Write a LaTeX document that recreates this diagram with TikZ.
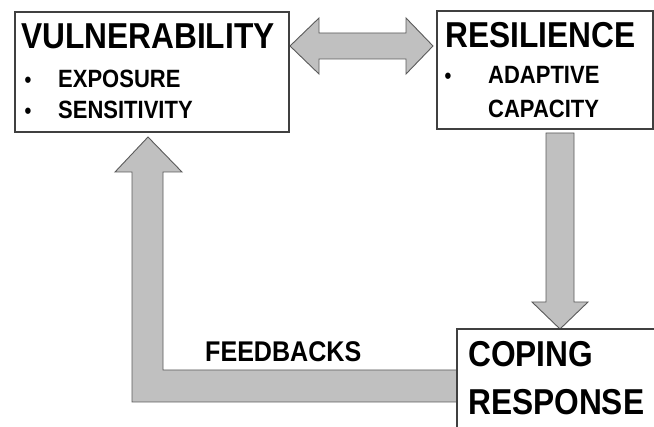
\documentclass[tikz,border=0pt]{standalone}
\usepackage{fontspec}
\setmainfont{Liberation Sans}[FakeStretch=0.88]
\usepackage{tikz}
\usetikzlibrary{arrows}
\definecolor{arrowfill}{HTML}{C0C0C0}
\definecolor{arrowline}{HTML}{5A5A5A}
\definecolor{boxline}{HTML}{404040}

\begin{document}
\begin{tikzpicture}[x=1pt,y=-1pt,
        box/.style={draw=boxline, line width=1.1pt, fill=white},
        blockarrow/.style={draw=arrowline, line width=0.9pt, fill=arrowfill, line join=miter},
        heading/.style={anchor=base west, inner sep=0pt, font=\fontsize{36}{42}\selectfont\bfseries},
        item/.style={anchor=base west, inner sep=0pt, font=\fontsize{25}{30}\selectfont\bfseries},
        dot/.style={anchor=base, inner sep=0pt, font=\fontsize{22}{26}\selectfont\bfseries}]
            \useasboundingbox (0,0) rectangle (654,427);
            % the arrows
            \coordinate (L) at (290,46);
            \coordinate (R) at (433,46);
            \coordinate (D) at (560,329);
            \coordinate (U) at (148,137);
            \draw[blockarrow] (L) -- ++(29,-28) -- ++(0,15) -- ++(87,0) -- ++(0,-15) -- (R)
                -- ++(-27,28) -- ++(0,-15) -- ++(-87,0) -- ++(0,15) -- cycle;
            \draw[blockarrow] (D) -- ++(28,-27) -- ++(-14,0) -- ++(0,-169) -- ++(-28,0)
                -- ++(0,169) -- ++(-14,0) -- cycle;
            \draw[blockarrow] (U) -- ++(34,35) -- ++(-19,0) -- ++(0,198) -- ++(294,0)
                -- ++(0,32) -- ++(-325,0) -- ++(0,-230) -- ++(-17,0) -- cycle;
            % the boxes
            \draw[box] (15,12) rectangle (289,132);
            \draw[box] (437,11) rectangle (653,129);
            \draw[box] (457,329) rectangle (660,440);
            % the texts
            \node[heading] (V) at (21,49) {VULNERABILITY};
            \node[dot] (V1) at (28,88) {•};
            \node[item] (V2) at (58,88) {EXPOSURE};
            \node[dot] (V3) at (28,119) {•};
            \node[item] (V4) at (58,119) {SENSITIVITY};
            \node[heading] (S) at (445,48) {RESILIENCE};
            \node[dot] (S1) at (448,84) {•};
            \node[item] (S2) at (488,84) {ADAPTIVE};
            \node[item] (S3) at (488,118) {CAPACITY};
            \node[heading] (C1) at (468,367) {COPING};
            \node[heading] (C2) at (468,415) {RESPONSE};
            \node[anchor=base west, inner sep=0pt, font=\fontsize{28.5}{34}\selectfont\bfseries] (F) at (205,362) {FEEDBACKS};
        \end{tikzpicture}
\end{document}
